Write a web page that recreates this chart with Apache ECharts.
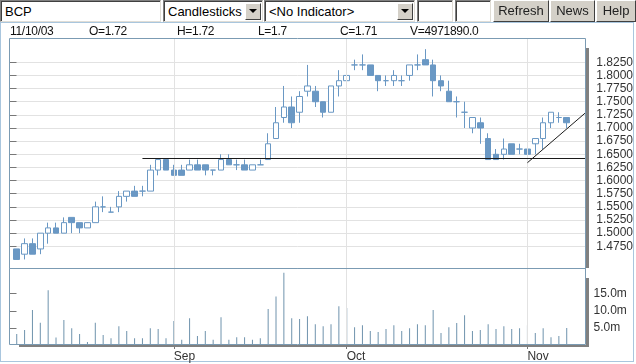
<!DOCTYPE html>
<html>
<head>
<meta charset="utf-8">
<script src="https://cdn.jsdelivr.net/npm/echarts@6/dist/echarts.min.js"></script>
<style>
  html, body { margin:0; padding:0; width:636px; height:364px; overflow:hidden; background:#fff; }
  body { font-family: "Liberation Sans", Arial, sans-serif; position:relative; }
  #chart { position:absolute; left:0; top:0; width:636px; height:364px; z-index:1; }
  .ui { position:absolute; z-index:2; box-sizing:border-box; font-size:13px; color:#000; }
  .inp { background:#fff; border-top:1px solid #808080; border-left:1px solid #808080;
         border-bottom:1px solid #e0ddd6; border-right:1px solid #e0ddd6;
         box-shadow: inset 1px 1px 0 #404040; }
  .inp span { position:absolute; left:4px; top:3px; }
  .arrow { position:absolute; top:2px; width:16px; height:17px; background:#d4d0c8;
           border-top:1px solid #fff; border-left:1px solid #fff; border-bottom:1px solid #404040; border-right:1px solid #404040; box-sizing:border-box; }
  .arrow:after { content:""; position:absolute; left:3px; top:5px; border-left:4px solid transparent; border-right:4px solid transparent; border-top:4px solid #000; }
  .btn { background:#d4d0c8; border-top:1px solid #fff; border-left:1px solid #fff;
         border-bottom:1px solid #404040; border-right:1px solid #404040; text-align:center; line-height:20px; color:#222; }
  #frame { position:absolute; left:0; top:22px; width:634px; height:340px; box-sizing:border-box;
           border:1px solid #a9c6de; z-index:0; }
  .hdr { position:absolute; top:24px; font-size:12px; color:#111; z-index:2; letter-spacing:-0.3px; }
</style>
</head>
<body>
<div id="frame"></div>
<div class="ui inp" style="left:0;top:0;width:161px;height:22px;"><span>BCP</span></div>
<div class="ui inp" style="left:163px;top:0;width:100px;height:22px;"><span>Candlesticks</span><div class="arrow" style="left:81px;"></div></div>
<div class="ui inp" style="left:264px;top:0;width:151px;height:22px;"><span>&lt;No Indicator&gt;</span><div class="arrow" style="left:132px;"></div></div>
<div class="ui inp" style="left:417px;top:0;width:36px;height:22px;"></div>
<div class="ui inp" style="left:455px;top:0;width:36px;height:22px;"></div>
<div class="ui btn" style="left:493px;top:0;width:56px;height:22px;">Refresh</div>
<div class="ui btn" style="left:550px;top:0;width:45px;height:22px;">News</div>
<div class="ui btn" style="left:596px;top:0;width:40px;height:22px;">Help</div>
<div class="hdr" id="hDate" style="left:10px;"></div>
<div class="hdr" id="hO" style="left:89px;"></div>
<div class="hdr" id="hH" style="left:177px;"></div>
<div class="hdr" id="hL" style="left:258px;"></div>
<div class="hdr" id="hC" style="left:340px;"></div>
<div class="hdr" id="hV" style="left:410px;"></div>
<div id="chart"></div>
<script>
// ---------- DATA ----------
const dates = [
'08/04/03','08/05/03','08/06/03','08/07/03','08/08/03','08/11/03','08/12/03','08/13/03','08/14/03','08/15/03',
'08/18/03','08/19/03','08/20/03','08/21/03','08/22/03','08/25/03','08/26/03','08/27/03','08/28/03','08/29/03',
'09/01/03','09/02/03','09/03/03','09/04/03','09/05/03','09/08/03','09/09/03','09/10/03','09/11/03','09/12/03',
'09/15/03','09/16/03','09/17/03','09/18/03','09/19/03','09/22/03','09/23/03','09/24/03','09/25/03','09/26/03',
'09/29/03','09/30/03',
'10/01/03','10/02/03','10/03/03','10/06/03','10/07/03','10/08/03','10/09/03','10/10/03','10/13/03','10/14/03',
'10/15/03','10/16/03','10/17/03','10/20/03','10/21/03','10/22/03','10/23/03','10/24/03','10/27/03','10/28/03',
'10/29/03','10/30/03','10/31/03',
'11/03/03','11/04/03','11/05/03','11/06/03','11/07/03','11/10/03'];

const open = [1.47,1.46,1.48,1.47,1.50,1.51,1.50,1.53,1.52,1.51, 1.52,1.55,1.54,1.55,1.57,1.58,1.58,1.58,1.62,1.64,
 1.62,1.62,1.62,1.63,1.63,1.62,1.62,1.64,1.63,1.63, 1.62,1.63,1.64,1.68,1.72,1.74,1.73,1.77,1.77,1.75,
 1.73,1.78,1.79,1.82,1.82,1.82,1.80,1.79,1.79,1.79, 1.80,1.82,1.83,1.82,1.79,1.77,1.75,1.73,1.70,1.71,
 1.68,1.65,1.65,1.67,1.66,1.66,1.67,1.68,1.71,1.72, 1.72];
const close = [1.45,1.48,1.46,1.50,1.51,1.50,1.52,1.52,1.51,1.52, 1.55,1.55,1.54,1.57,1.58,1.57,1.58,1.62,1.64,1.62,
 1.61,1.61,1.63,1.62,1.62,1.62,1.64,1.63,1.63,1.62, 1.63,1.63,1.67,1.71,1.74,1.71,1.76,1.78,1.75,1.73,
 1.78,1.79,1.80,1.82,1.82,1.80,1.79,1.79,1.80,1.79, 1.82,1.82,1.82,1.79,1.78,1.75,1.75,1.73,1.72,1.70,
 1.64,1.64,1.66,1.65,1.66,1.65,1.68,1.71,1.73,1.72, 1.71];
const low = [1.45,1.45,1.46,1.46,1.48,1.50,1.50,1.50,1.50,1.51, 1.52,1.54,1.54,1.54,1.56,1.57,1.57,1.58,1.61,1.62,
 1.61,1.61,1.62,1.62,1.61,1.61,1.62,1.63,1.62,1.62, 1.62,1.63,1.64,1.68,1.71,1.70,1.71,1.76,1.74,1.72,
 1.73,1.76,1.79,1.81,1.81,1.80,1.77,1.78,1.78,1.78, 1.79,1.81,1.82,1.76,1.77,1.75,1.72,1.70,1.69,1.67,
 1.64,1.64,1.64,1.65,1.65,1.64,1.65,1.66,1.70,1.71, 1.70];
const high = [1.47,1.49,1.49,1.50,1.52,1.52,1.53,1.53,1.52,1.52, 1.56,1.57,1.55,1.58,1.58,1.59,1.59,1.63,1.64,1.64,
 1.63,1.63,1.64,1.64,1.63,1.62,1.65,1.65,1.64,1.64, 1.63,1.64,1.69,1.74,1.78,1.76,1.77,1.82,1.78,1.75,
 1.78,1.81,1.84,1.83,1.84,1.82,1.80,1.80,1.81,1.80, 1.82,1.84,1.85,1.83,1.80,1.79,1.76,1.75,1.72,1.72,
 1.69,1.66,1.68,1.67,1.67,1.66,1.68,1.72,1.73,1.73, 1.72];
const volume = [3200000,4400000,10200000,6500000,16000000,2200000,7300000,4900000,3200000,900000,
 6500000,2900000,2000000,5500000,4100000,2000000,2000000,4900000,4700000,2000000,
 7000000,1500000,7800000,2600000,4100000,1500000,8100000,1500000,2300000,2300000,
 1500000,2000000,10500000,14200000,21100000,7800000,7600000,8400000,6100000,5500000,
 6100000,11300000,10800000,5200000,5800000,4100000,3800000,4700000,5800000,4100000,
 4900000,6100000,5800000,10200000,3500000,5200000,6400000,8700000,4100000,4400000,
 6100000,4700000,5500000,4700000,4900000,5800000,3500000,4900000,2300000,2600000,
 4971890];

// annotation lines drawn by the user on the chart
const supportLine = { fromIndex: 16, level: 1.6424 };
const trendLine = { fromIndex: 65, fromValue: 1.634, toValue: 1.729 };

// axis tick values
const priceTickMin = 1.475, priceTickMax = 1.825, priceTickStep = 0.025;
const volumeTickMin = 5000000, volumeTickMax = 15000000, volumeTickStep = 5000000;
const monthNames = ['Jan','Feb','Mar','Apr','May','Jun','Jul','Aug','Sep','Oct','Nov','Dec'];

// ---------- LAYOUT ----------
const boxL = 9.5, boxR = 585.5, priceTop = 38.5, priceBot = 268.5, volBot = 345;
const firstX = 16.73, stepX = 7.857;
const xMin = (boxL - firstX) / stepX, xMax = (boxR - firstX) / stepX;
const priceTickTopPx = 62.3, priceTickBotPx = 246.3;
const pxPerUnit = (priceTickBotPx - priceTickTopPx) / (priceTickMax - priceTickMin);
const yHi = priceTickMax + (priceTickTopPx - priceTop) / pxPerUnit;
const yLo = priceTickMin - (priceBot - priceTickBotPx) / pxPerUnit;
const pxPerVol = 3.42 / 1000000;
const volMax = (volBot - priceBot) / pxPerVol;
const vol15Px = volBot - volumeTickMax * pxPerVol, vol5Px = volBot - volumeTickMin * pxPerVol;

const BLUE = '#6a98c4', VBLUE = '#6f93ad', FONT = 'Liberation Sans';

// header
const n = dates.length - 1;
document.getElementById('hDate').textContent = dates[n];
document.getElementById('hO').textContent = 'O=' + open[n];
document.getElementById('hH').textContent = 'H=' + high[n];
document.getElementById('hL').textContent = 'L=' + low[n];
document.getElementById('hC').textContent = 'C=' + close[n];
document.getElementById('hV').textContent = 'V=' + volume[n].toFixed(1);

const candleData = dates.map((d, i) => [i, open[i], close[i], low[i], high[i]]);
const volData = dates.map((d, i) => [i, volume[i]]);
const monthStarts = [];
for (let i = 1; i < dates.length; i++) if (dates[i].slice(0, 2) !== dates[i - 1].slice(0, 2)) monthStarts.push(i);

const rightPx = 636 - boxR;
const monthLineStyle = { color: '#e2e2e2', width: 1, type: 'solid' };

const option = {
  animation: false,
  textStyle: { fontFamily: FONT },
  grid: [
    { left: boxL, right: rightPx, top: priceTop, bottom: 364 - priceBot },
    { left: boxL, right: rightPx, top: priceTickTopPx, height: priceTickBotPx - priceTickTopPx },
    { left: boxL, right: rightPx, top: priceBot, bottom: 364 - volBot },
    { left: boxL, right: rightPx, top: vol15Px, height: vol5Px - vol15Px }
  ],
  xAxis: [
    { gridIndex: 0, type: 'value', min: xMin, max: xMax, show: false },
    { gridIndex: 1, type: 'value', min: 0, max: 1, show: false },
    { gridIndex: 2, type: 'value', min: xMin, max: xMax,
      axisLine: { show: false }, splitLine: { show: false },
      axisTick: { show: true, customValues: monthStarts, length: 4, lineStyle: { color: '#777' } },
      axisLabel: { customValues: monthStarts, align: 'left', margin: 6, fontSize: 12, color: '#333', fontFamily: FONT,
        formatter: v => monthNames[parseInt(dates[Math.round(v)].slice(0, 2), 10) - 1] } },
    { gridIndex: 3, type: 'value', min: 0, max: 1, show: false }
  ],
  yAxis: [
    { gridIndex: 0, type: 'value', min: yLo, max: yHi, show: false },
    { gridIndex: 1, type: 'value', position: 'right', min: priceTickMin, max: priceTickMax, interval: priceTickStep,
      axisLine: { show: false }, axisTick: { show: true, length: 7, lineStyle: { color: '#777' } },
      splitLine: { show: true, lineStyle: { color: '#e2e2e2' } },
      axisLabel: { margin: 11, fontSize: 12, color: '#333', fontFamily: FONT, formatter: v => v.toFixed(4) } },
    { gridIndex: 2, type: 'value', min: 0, max: volMax, show: false },
    { gridIndex: 3, type: 'value', position: 'right', min: volumeTickMin, max: volumeTickMax, interval: volumeTickStep,
      axisLine: { show: false }, splitLine: { show: false },
      axisTick: { show: true, length: 7, lineStyle: { color: '#777' } },
      axisLabel: { margin: 8, fontSize: 12, color: '#333', fontFamily: FONT, formatter: v => (v / 1000000).toFixed(1) + 'm' } }
  ],
  series: [
    { type: 'line', xAxisIndex: 0, yAxisIndex: 0, data: [], z: 1, silent: true,
      markLine: { silent: true, symbol: 'none', label: { show: false }, lineStyle: monthLineStyle,
        emphasis: { disabled: true }, data: monthStarts.map(i => ({ xAxis: i })) } },
    { type: 'line', xAxisIndex: 2, yAxisIndex: 2, data: [], z: 1, silent: true,
      markLine: { silent: true, symbol: 'none', label: { show: false }, lineStyle: monthLineStyle,
        emphasis: { disabled: true }, data: monthStarts.map(i => ({ xAxis: i })) } },
    { type: 'candlestick', xAxisIndex: 0, yAxisIndex: 0, data: candleData, z: 3,
      encode: { x: 0, y: [1, 2, 3, 4] }, barWidth: 6,
      itemStyle: { color: '#ffffff', color0: BLUE, borderColor: BLUE, borderColor0: BLUE, borderWidth: 1 },
      markLine: { silent: true, symbol: 'none', label: { show: false },
        lineStyle: { color: '#1a1a1a', width: 1, type: 'solid' },
        data: [
          [{ coord: [supportLine.fromIndex, supportLine.level] }, { coord: [xMax, supportLine.level] }],
          [{ coord: [trendLine.fromIndex, trendLine.fromValue] }, { coord: [xMax, trendLine.toValue] }]
        ] } },
    { type: 'bar', xAxisIndex: 2, yAxisIndex: 2, data: volData, barWidth: 1, z: 3,
      itemStyle: { color: VBLUE } }
  ],
  graphic: [
    { type: 'rect', z: 100, silent: true, shape: { x: 586, y: 48, width: 3, height: 220 }, style: { fill: '#808080' } },
    { type: 'rect', z: 100, silent: true, shape: { x: 586, y: 278, width: 3, height: 69 }, style: { fill: '#808080' } },
    { type: 'rect', z: 100, silent: true, shape: { x: 19, y: 345, width: 570, height: 2 }, style: { fill: '#808080' } },
    { type: 'rect', z: 101, silent: true, shape: { x: 9.5, y: 38.5, width: 576, height: 230 }, style: { fill: 'none', stroke: '#7b9bb3', lineWidth: 1 } },
    { type: 'rect', z: 101, silent: true, shape: { x: 9.5, y: 268.5, width: 576, height: 76 }, style: { fill: 'none', stroke: '#7b9bb3', lineWidth: 1 } }
  ]
};
const chart = echarts.init(document.getElementById('chart'));
chart.setOption(option);
</script>
</body>
</html>
